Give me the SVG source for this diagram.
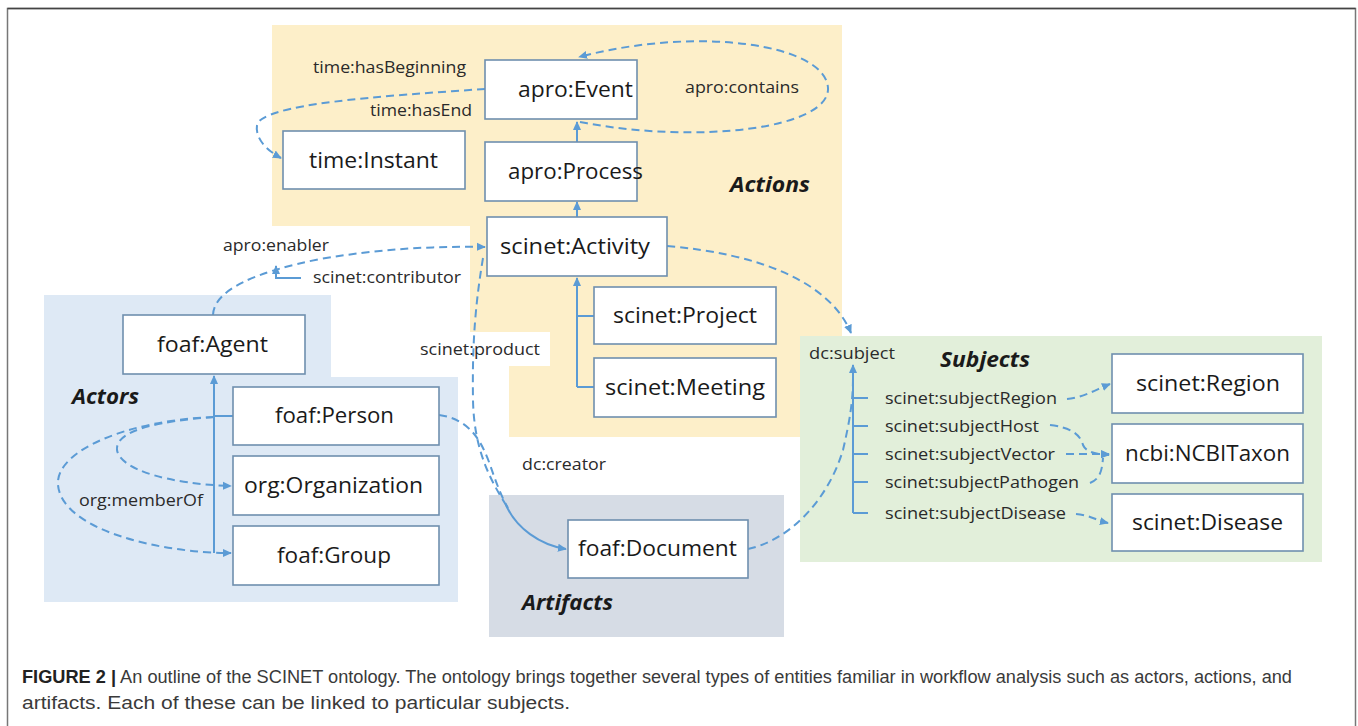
<svg xmlns="http://www.w3.org/2000/svg" width="1358" height="726" viewBox="0 0 1358 726">
  <defs>
    <marker id="ah" viewBox="0 0 10 10" refX="9" refY="5" markerWidth="9" markerHeight="9" orient="auto" markerUnits="userSpaceOnUse">
      <path d="M0,0.5 L10,5 L0,9.5 z" fill="#5B9BD5"/>
    </marker>
    <style>
      .node rect { fill: #ffffff; stroke: #6F8FAE; stroke-width: 1.6; }
      .node text { font-family: "Open Sans", Lato, sans-serif; font-size: 21px; fill: #1a1a1a; }
      .lbl { font-family: "Open Sans", Lato, sans-serif; font-size: 16.5px; fill: #2a2a2a; }
      .sec { font-family: "Open Sans", Lato, sans-serif; font-size: 21px; font-weight: bold; font-style: italic; fill: #1a1a1a; }
      .dash { fill: none; stroke: #5B9BD5; stroke-width: 2; stroke-dasharray: 8 5; }
      .solid { fill: none; stroke: #5B9BD5; stroke-width: 2; }
      .cap { font-family: "Liberation Sans", Arial, sans-serif; font-size: 17.5px; fill: #3a3a3a; }
    </style>
  </defs>

  <rect width="1358" height="726" fill="#ffffff"/>

  <!-- figure frame -->
  <path d="M7.5,726 L7.5,8.5 L1355.5,8.5 L1355.5,726" fill="none" stroke="#777" stroke-width="1.5"/>
  <line x1="7.5" y1="8.5" x2="1355.5" y2="8.5" stroke="#444" stroke-width="1.5"/>

  <!-- section backgrounds -->
  <g id="regions">
    <polygon id="actions-bg" points="272,25 842,25 842,437 509,437 509,366 470,366 470,226 272,226" fill="#FDEFC9"/>
    <polygon id="actors-bg" points="44,295 331,295 331,377 458,377 458,602 44,602" fill="#DEE9F5"/>
    <rect id="artifacts-bg" x="489" y="495" width="295" height="142" fill="#D6DCE5"/>
    <rect id="subjects-bg" x="800" y="336" width="522" height="226" fill="#E2EFDA"/>
    <rect x="420" y="332" width="130" height="34" fill="#ffffff"/>
  </g>

  <!-- section titles -->
  <text class="sec" x="730" y="192" textLength="80" lengthAdjust="spacingAndGlyphs">Actions</text>
  <text class="sec" x="72" y="404" textLength="67" lengthAdjust="spacingAndGlyphs">Actors</text>
  <text class="sec" x="522" y="610" textLength="91" lengthAdjust="spacingAndGlyphs">Artifacts</text>
  <text class="sec" x="940" y="367" textLength="90" lengthAdjust="spacingAndGlyphs">Subjects</text>

  <!-- connectors -->
  <g id="connectors">
    <!-- Actions -->
    <path class="dash" d="M580,122 C700,145 830,128 828,88 C826,45 700,25 579,57" marker-end="url(#ah)"/>
    <path class="dash" d="M485,89 C380,96 262,104 257,125 C255,138 266,150 281,158" marker-end="url(#ah)"/>
    <path class="solid" d="M577,142 L577,122" marker-end="url(#ah)"/>
    <path class="solid" d="M577,217 L577,202" marker-end="url(#ah)"/>
    <path class="solid" d="M577,387 L577,278" marker-end="url(#ah)"/>
    <path class="solid" d="M577,316 L594,316 M577,387 L594,387"/>
    <path class="dash" d="M667,246 C760,254 830,282 851,333" marker-end="url(#ah)"/>

    <!-- enabler / contributor -->
    <path class="dash" d="M213,315 C214,290 255,272 320,259 C380,249 430,246 485,247" marker-end="url(#ah)"/>
    <path class="solid" d="M301,278 L276,278 L276,266" marker-end="url(#ah)"/>

    <!-- product / creator -->
    <path class="dash" d="M483,258 C476,300 472,340 473,400 C474,450 490,480 508,508"/>
    <path class="dash" d="M439,415 C468,419 480,438 489,462 C496,482 501,496 508,508"/>
    <path class="solid" d="M506,505 C516,528 540,545 566,549" marker-end="url(#ah)"/>

    <!-- Actors -->
    <path class="solid" d="M214,553 L214,376" marker-end="url(#ah)"/>
    <path class="solid" d="M214,416 L233,416"/>
    <path class="dash" d="M214,417 C130,420 55,450 58,485 C62,530 160,553 231,553" marker-end="url(#ah)"/>
    <path class="dash" d="M214,417 C160,421 115,430 117,450 C120,470 170,484 231,486" marker-end="url(#ah)"/>

    <!-- Document to subject -->
    <path class="dash" d="M748,549 C790,540 828,500 843,450 C850,420 853,400 853,378"/>

    <!-- Subjects tree -->
    <path class="solid" d="M853,513 L853,365" marker-end="url(#ah)"/>
    <path class="solid" d="M853,398 L868,398 M853,426 L868,426 M853,454 L868,454 M853,482 L868,482 M853,513 L868,513"/>
    <path class="dash" d="M1067,399 C1082,398 1095,390 1110,384" marker-end="url(#ah)"/>
    <path class="dash" d="M1050,425 C1068,427 1080,433 1083,445 C1086,452 1095,454 1109,455" marker-end="url(#ah)"/>
    <path class="dash" d="M1066,454 L1109,454" marker-end="url(#ah)"/>
    <path class="dash" d="M1090,483 C1100,479 1102,471 1103,458"/>
    <path class="dash" d="M1076,514 C1090,515 1095,520 1108,523" marker-end="url(#ah)"/>
  </g>

  <!-- connector labels -->
  <text class="lbl" x="313" y="73" textLength="153" lengthAdjust="spacingAndGlyphs">time:hasBeginning</text>
  <text class="lbl" x="370" y="116" textLength="102" lengthAdjust="spacingAndGlyphs">time:hasEnd</text>
  <text class="lbl" x="685" y="93" textLength="114" lengthAdjust="spacingAndGlyphs">apro:contains</text>
  <text class="lbl" x="223" y="251" textLength="106" lengthAdjust="spacingAndGlyphs">apro:enabler</text>
  <text class="lbl" x="313" y="283" textLength="148" lengthAdjust="spacingAndGlyphs">scinet:contributor</text>
  <text class="lbl" x="420" y="355" textLength="120" lengthAdjust="spacingAndGlyphs">scinet:product</text>
  <text class="lbl" x="522" y="470" textLength="84" lengthAdjust="spacingAndGlyphs">dc:creator</text>
  <text class="lbl" x="79" y="506" textLength="124" lengthAdjust="spacingAndGlyphs">org:memberOf</text>
  <text class="lbl" x="809" y="359" textLength="86" lengthAdjust="spacingAndGlyphs">dc:subject</text>
  <text class="lbl" x="885" y="404" textLength="172" lengthAdjust="spacingAndGlyphs">scinet:subjectRegion</text>
  <text class="lbl" x="885" y="432" textLength="154" lengthAdjust="spacingAndGlyphs">scinet:subjectHost</text>
  <text class="lbl" x="885" y="460" textLength="170" lengthAdjust="spacingAndGlyphs">scinet:subjectVector</text>
  <text class="lbl" x="885" y="488" textLength="194" lengthAdjust="spacingAndGlyphs">scinet:subjectPathogen</text>
  <text class="lbl" x="885" y="519" textLength="181" lengthAdjust="spacingAndGlyphs">scinet:subjectDisease</text>

  <!-- nodes -->
  <g id="n-event" class="node"><rect x="485" y="60" width="152" height="59"/><text x="518" y="97" textLength="115" lengthAdjust="spacingAndGlyphs">apro:Event</text></g>
  <g id="n-instant" class="node"><rect x="283" y="131" width="182" height="58"/><text x="309" y="168" textLength="129" lengthAdjust="spacingAndGlyphs">time:Instant</text></g>
  <g id="n-process" class="node"><rect x="485" y="142" width="152" height="59"/><text x="508" y="179" textLength="135" lengthAdjust="spacingAndGlyphs">apro:Process</text></g>
  <g id="n-activity" class="node"><rect x="487" y="217" width="180" height="59"/><text x="500" y="254" textLength="150" lengthAdjust="spacingAndGlyphs">scinet:Activity</text></g>
  <g id="n-project" class="node"><rect x="594" y="287" width="182" height="57"/><text x="613" y="323" textLength="144" lengthAdjust="spacingAndGlyphs">scinet:Project</text></g>
  <g id="n-meeting" class="node"><rect x="594" y="358" width="182" height="59"/><text x="605" y="395" textLength="160" lengthAdjust="spacingAndGlyphs">scinet:Meeting</text></g>
  <g id="n-agent" class="node"><rect x="123" y="315" width="182" height="59"/><text x="157" y="352" textLength="111" lengthAdjust="spacingAndGlyphs">foaf:Agent</text></g>
  <g id="n-person" class="node"><rect x="233" y="387" width="206" height="58"/><text x="275" y="423" textLength="119" lengthAdjust="spacingAndGlyphs">foaf:Person</text></g>
  <g id="n-org" class="node"><rect x="233" y="456" width="206" height="59"/><text x="244" y="493" textLength="179" lengthAdjust="spacingAndGlyphs">org:Organization</text></g>
  <g id="n-group" class="node"><rect x="233" y="526" width="206" height="59"/><text x="277" y="563" textLength="114" lengthAdjust="spacingAndGlyphs">foaf:Group</text></g>
  <g id="n-document" class="node"><rect x="568" y="520" width="180" height="58"/><text x="578" y="556" textLength="159" lengthAdjust="spacingAndGlyphs">foaf:Document</text></g>
  <g id="n-region" class="node"><rect x="1112" y="354" width="191" height="59"/><text x="1136" y="391" textLength="144" lengthAdjust="spacingAndGlyphs">scinet:Region</text></g>
  <g id="n-taxon" class="node"><rect x="1112" y="424" width="191" height="59"/><text x="1125" y="461" textLength="165" lengthAdjust="spacingAndGlyphs">ncbi:NCBITaxon</text></g>
  <g id="n-disease" class="node"><rect x="1112" y="494" width="191" height="57"/><text x="1132" y="530" textLength="151" lengthAdjust="spacingAndGlyphs">scinet:Disease</text></g>

  <!-- caption -->
  <text class="cap" x="22" y="683" textLength="1270" lengthAdjust="spacingAndGlyphs"><tspan font-weight="bold" fill="#222">FIGURE 2 |</tspan> An outline of the SCINET ontology. The ontology brings together several types of entities familiar in workflow analysis such as actors, actions, and</text>
  <text class="cap" x="22" y="709" textLength="548" lengthAdjust="spacingAndGlyphs">artifacts. Each of these can be linked to particular subjects.</text>
</svg>
